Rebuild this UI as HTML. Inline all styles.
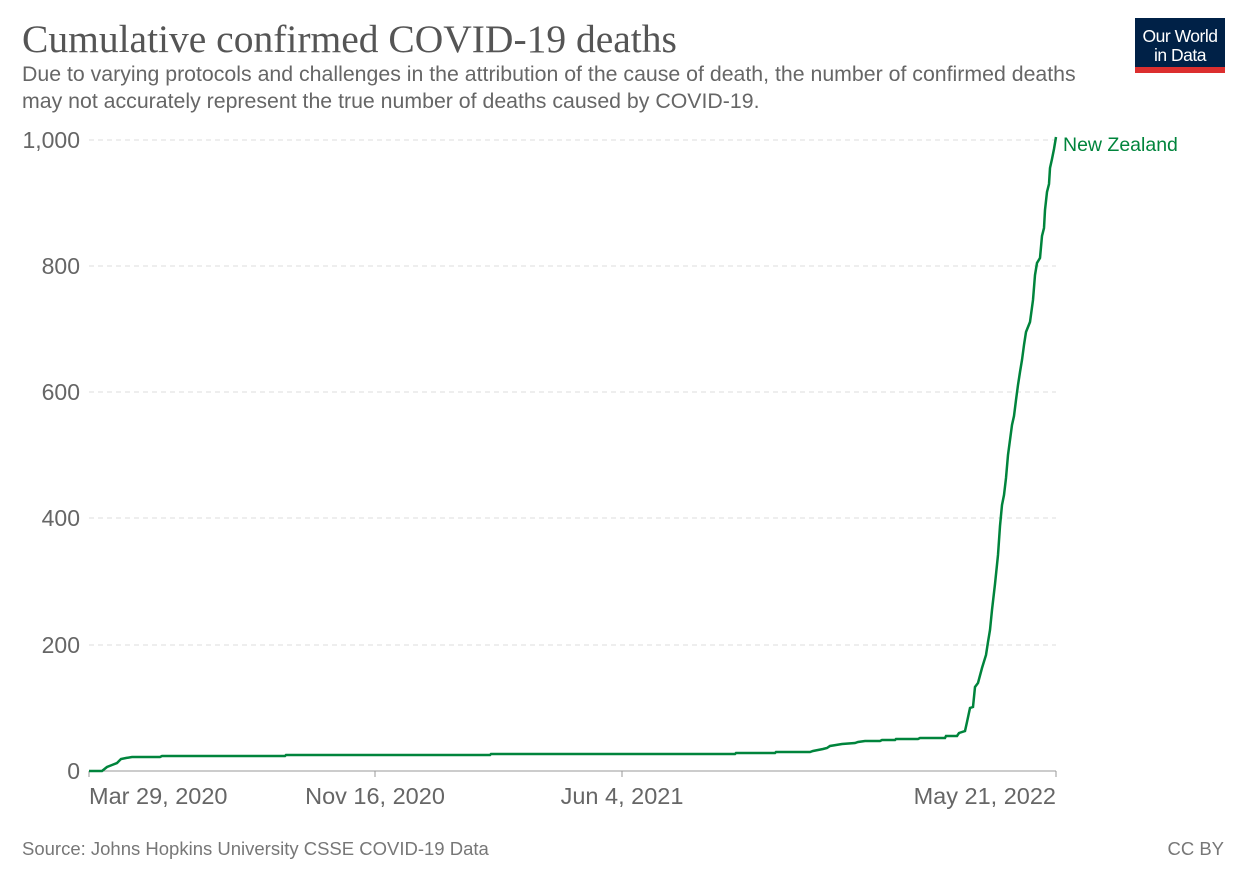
<!DOCTYPE html>
<html><head><meta charset="utf-8"><style>
body{margin:0;background:#fff;width:1247px;height:880px;overflow:hidden}
svg{display:block}
</style></head><body>
<svg width="1247" height="880" xmlns="http://www.w3.org/2000/svg">
<text x="22" y="52" font-family="Liberation Serif, serif" font-size="39.5" fill="#555">Cumulative confirmed COVID-19 deaths</text>
<text x="22" y="81" font-family="Liberation Sans, sans-serif" font-size="21.3" fill="#666">Due to varying protocols and challenges in the attribution of the cause of death, the number of confirmed deaths</text>
<text x="22" y="108" font-family="Liberation Sans, sans-serif" font-size="21.3" fill="#666">may not accurately represent the true number of deaths caused by COVID-19.</text>
<rect x="1135" y="18" width="90" height="55" fill="#002147"/>
<rect x="1135" y="67" width="90" height="6" fill="#dc2f2f"/>
<text x="1180" y="42" text-anchor="middle" font-family="Liberation Sans, sans-serif" font-size="17.5" fill="#fff" letter-spacing="-0.5">Our World</text>
<text x="1180" y="61" text-anchor="middle" font-family="Liberation Sans, sans-serif" font-size="17.5" fill="#fff" letter-spacing="-0.5">in Data</text>
<g stroke="#ddd" stroke-dasharray="5,4" stroke-width="1">
<line x1="89" x2="1056" y1="140" y2="140"/><line x1="89" x2="1056" y1="266" y2="266"/>
<line x1="89" x2="1056" y1="392" y2="392"/><line x1="89" x2="1056" y1="518" y2="518"/>
<line x1="89" x2="1056" y1="645" y2="645"/>
</g>
<g font-family="Liberation Sans, sans-serif" font-size="23" fill="#666" text-anchor="end">
<text x="80" y="148">1,000</text><text x="80" y="274">800</text><text x="80" y="400">600</text>
<text x="80" y="526">400</text><text x="80" y="653">200</text><text x="80" y="779">0</text>
</g>
<line x1="89" x2="1056" y1="771" y2="771" stroke="#999"/>
<g stroke="#999"><line x1="89" x2="89" y1="771" y2="777"/><line x1="375" x2="375" y1="771" y2="777"/><line x1="622" x2="622" y1="771" y2="777"/><line x1="1056" x2="1056" y1="771" y2="777"/></g>
<g font-family="Liberation Sans, sans-serif" font-size="23.5" fill="#666">
<text x="89" y="804">Mar 29, 2020</text>
<text x="375" y="804" text-anchor="middle">Nov 16, 2020</text>
<text x="622" y="804" text-anchor="middle">Jun 4, 2021</text>
<text x="1056" y="804" text-anchor="end">May 21, 2022</text>
</g>
<polyline fill="none" stroke="#00843c" stroke-width="2.5" points="89,771 102,771 107,767 112,765 117,763 121,759 126,758 132,757 160,757 162,756 285,756 286,755 300,755 301,755 490,755 491,754 735,754 736,753 775,753 776,752 810,752 813,751 818,750 823,749 827,748 830,746 836,745 842,744 855,743 858,742 865,741 880,741 882,740 895,740 896,739 918,739 920,738 945,738 946,736 957,736 959,733 965,731 967,722 970,708 973,707 975,687 978,683 982,668 986,655 988,642 990,630 992,610 995,584 998,555 1000,526 1002,505 1004,495 1006,478 1008,455 1010,440 1012,425 1014,416 1016,400 1018,385 1020,372 1022,360 1024,345 1026,332 1030,322 1033,300 1035,275 1037,263 1040,258 1042,236 1044,228 1045,210 1047,192 1049,184 1050,168 1052,159 1054,149 1056,137"/>
<text x="1063" y="151" font-family="Liberation Sans, sans-serif" font-size="19.5" fill="#00843c">New Zealand</text>
<text x="22" y="855" font-family="Liberation Sans, sans-serif" font-size="18.5" fill="#777">Source: Johns Hopkins University CSSE COVID-19 Data</text>
<text x="1224" y="855" text-anchor="end" font-family="Liberation Sans, sans-serif" font-size="18.5" fill="#777">CC BY</text>
</svg>
</body></html>
